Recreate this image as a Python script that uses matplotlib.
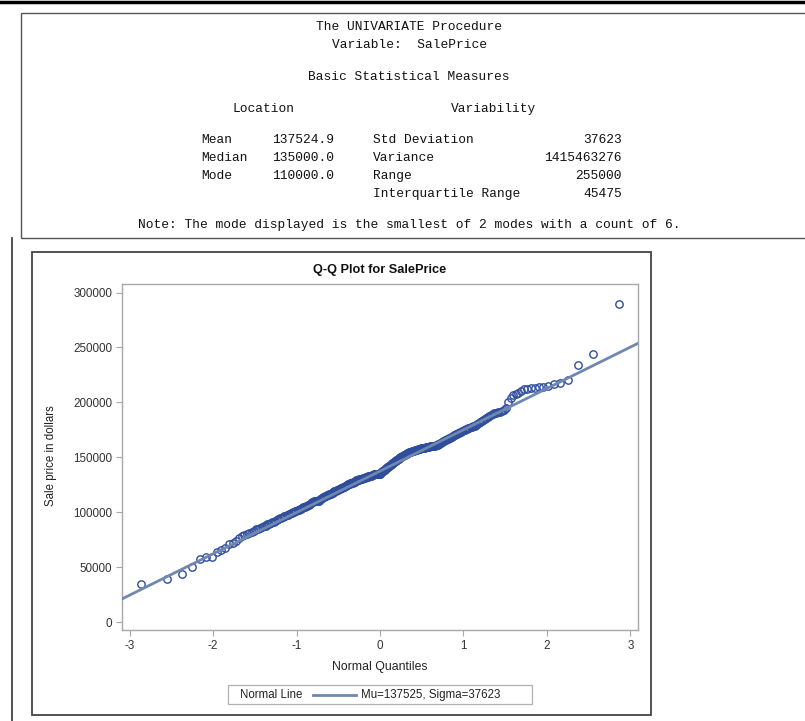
import matplotlib
matplotlib.use("Agg")
import matplotlib.pyplot as plt
from matplotlib.patches import Rectangle
from matplotlib.lines import Line2D
from statistics import NormalDist

# ---------------- data (sorted sale prices) ----------------
sale_price = [
    35000, 39000, 44000, 50000, 58000, 59000, 59500, 64000, 65500, 68000,
    71000, 72500, 74000, 76500, 78500, 79000, 80000, 81000, 82000, 83500,
    84500, 85000, 86000, 86500, 87500, 88000, 89000, 89500, 90500, 91000,
    91500, 92500, 93000, 94000, 94500, 95000, 96000, 96500, 97000, 97500,
    98000, 98500, 99000, 99500, 100000, 100500, 101000, 101500, 102000, 102500,
    103000, 103500, 104000, 104500, 105000, 105000, 105500, 106000, 106500, 107000,
    108000, 108500, 109000, 109500, 110000, 110000, 110000, 110000, 110000, 110000,
    112000, 112500, 113000, 113500, 114000, 114000, 114500, 115000, 115500, 116000,
    116000, 116500, 116800, 117000, 117500, 118000, 118500, 119000, 119500, 119800,
    120000, 120200, 120500, 121000, 121500, 122000, 122000, 122500, 123000, 123000,
    123500, 124000, 124000, 124500, 125000, 125500, 125500, 126000, 126500, 126800,
    127000, 127000, 127500, 128000, 128000, 128500, 129000, 129000, 129500, 129500,
    130000, 130000, 130200, 130500, 130500, 131000, 131000, 131500, 131500, 132000,
    132000, 132500, 132500, 133000, 133000, 133000, 133500, 133500, 134000, 134000,
    134000, 134500, 134500, 134500, 134900, 135000, 135000, 135000, 135000, 135000,
    135000, 136500, 137000, 137500, 138000, 138500, 139000, 139500, 140000, 140500,
    141000, 141500, 142000, 142500, 143000, 143500, 144000, 144500, 145000, 145500,
    146000, 146500, 147000, 147500, 148000, 148500, 149000, 149500, 150000, 150000,
    150500, 151000, 151500, 152000, 152000, 152500, 153000, 153500, 154000, 154000,
    154500, 154500, 155000, 155000, 155500, 155500, 156000, 156000, 156500, 156500,
    157000, 157000, 157500, 157500, 158000, 158000, 158200, 158500, 158500, 158800,
    159000, 159000, 159250, 159500, 159500, 159750, 159900, 160000, 160000, 160000,
    160250, 160500, 160500, 160750, 161000, 161000, 161500, 162000, 162500, 163000,
    163500, 164000, 164500, 165000, 165500, 166000, 166500, 167000, 167500, 168000,
    168500, 169000, 169500, 170000, 170500, 171000, 171500, 172000, 172500, 173000,
    173500, 174000, 174500, 175000, 175500, 176000, 176500, 177000, 177500, 178000,
    178500, 179000, 179500, 180000, 181000, 182000, 183000, 184000, 185000, 186000,
    187000, 188000, 189000, 189500, 190000, 190500, 191000, 191500, 192000, 193000,
    195000, 200500, 204000, 206500, 208000, 209000, 210000, 212000, 212500, 213000,
    213500, 214000, 214500, 215000, 216500, 218000, 220000, 234500, 244500, 290000,
]
normal_mu = 137525
normal_sigma = 37623
x_ticks = [-3, -2, -1, 0, 1, 2, 3]
y_ticks = [0, 50000, 100000, 150000, 200000, 250000, 300000]

header_lines = ["The UNIVARIATE Procedure", "Variable:  SalePrice", "Basic Statistical Measures"]
location_labels = ["Mean", "Median", "Mode"]
location_values = ["137524.9", "135000.0", "110000.0"]
variability_labels = ["Std Deviation", "Variance", "Range", "Interquartile Range"]
variability_values = ["37623", "1415463276", "255000", "45475"]
note_text = "Note: The mode displayed is the smallest of 2 modes with a count of 6."
legend_title = "Normal Line"
legend_label = "Mu=137525, Sigma=37623"

# ---------------- figure ----------------
W, H = 805, 721
fig = plt.figure(figsize=(W / 100, H / 100), dpi=100)
fig.patch.set_facecolor("white")

def fx(x):
    return x / W

def fy(y):
    return 1 - y / H

def ptext(x, y, s, **kw):
    kw.setdefault("va", "center")
    fig.text(fx(x), fy(y), s, **kw)

def prect(x0, y0, x1, y1, **kw):
    fig.patches.append(Rectangle((fx(x0), fy(y1)), fx(x1) - fx(x0), fy(y0) - fy(y1),
                                 transform=fig.transFigure, fill=False, **kw))

def pline(xs, ys, **kw):
    fig.lines.append(Line2D([fx(v) for v in xs], [fy(v) for v in ys],
                            transform=fig.transFigure, **kw))

# page decorations
pline([0, W], [1.5, 1.5], color="black", lw=2.5)
prect(21, 13, 806, 238, edgecolor="#555555", lw=1.0)
pline([12, 12], [238, 721], color="#333333", lw=1.2)
prect(32, 252, 651, 715, edgecolor="#444444", lw=1.3)

# ---------------- SAS text output ----------------
mono = dict(family="Liberation Mono", fontsize=9.3, color="#111111")
ptext(409, 27, header_lines[0], ha="center", **mono)
ptext(409, 45, header_lines[1], ha="center", **mono)
ptext(409, 77, header_lines[2], ha="center", **mono)
ptext(264, 109, "Location", ha="center", **mono)
ptext(494, 109, "Variability", ha="center", **mono)
row_y = [140, 158, 176, 194]
for lab, val, y in zip(location_labels, location_values, row_y):
    ptext(201, y, lab, ha="left", **mono)
    ptext(334, y, val, ha="right", **mono)
for lab, val, y in zip(variability_labels, variability_values, row_y):
    ptext(373, y, lab, ha="left", **mono)
    ptext(622, y, val, ha="right", **mono)
ptext(409, 225, note_text, ha="center", **mono)

# ---------------- Q-Q plot ----------------
n = len(sale_price)
nd = NormalDist()
quantiles = [nd.inv_cdf((i - 0.375) / (n + 0.25)) for i in range(1, n + 1)]

ax = fig.add_axes([fx(122), fy(630), fx(638) - fx(122), fy(283.5) - fy(630)])
ax.plot(quantiles, sale_price, linestyle="none", marker="o", markersize=5.3,
        markerfacecolor="none", markeredgecolor="#2E4D9C", markeredgewidth=1.0, zorder=2)
ax.axline((0, normal_mu), slope=normal_sigma, color="#7087B0", lw=2.0, zorder=3)

ax.set_xlim(-3.09, 3.09)
ax.set_ylim(-7000, 308200)
ax.set_xticks(x_ticks)
ax.set_xticklabels([str(t) for t in x_ticks])
ax.set_yticks(y_ticks)
ax.set_yticklabels([str(t) for t in y_ticks])
for s in ax.spines.values():
    s.set_color("#A8A8A8")
    s.set_linewidth(1.0)
ax.tick_params(axis="both", direction="out", length=4.5, width=0.8, color="#A8A8A8",
               labelsize=8.4, labelcolor="#333333", pad=2.5)
for lbl in ax.get_xticklabels() + ax.get_yticklabels():
    lbl.set_family("Liberation Sans")

ptext(380, 270, "Q-Q Plot for SalePrice", ha="center", family="Liberation Sans",
      fontsize=9.2, fontweight="bold", color="#111111")
ptext(380, 667, "Normal Quantiles", ha="center", family="Liberation Sans",
      fontsize=8.8, color="#222222")
fig.text(fx(51), fy(456), "Sale price in dollars", ha="center", va="center", rotation=90,
         family="Liberation Sans", fontsize=8.3, color="#222222")

# legend
prect(228, 685, 532, 704, edgecolor="#B0B0B0", lw=0.9)
ptext(240, 698, legend_title, ha="left", va="baseline", family="Liberation Sans",
      fontsize=8.3, color="#222222")
pline([313, 356], [694.5, 694.5], color="#7087B0", lw=2.0)
ptext(361, 698, legend_label, ha="left", va="baseline", family="Liberation Sans",
      fontsize=8.3, color="#222222")

fig.savefig("out.png", dpi=100, facecolor="white")
